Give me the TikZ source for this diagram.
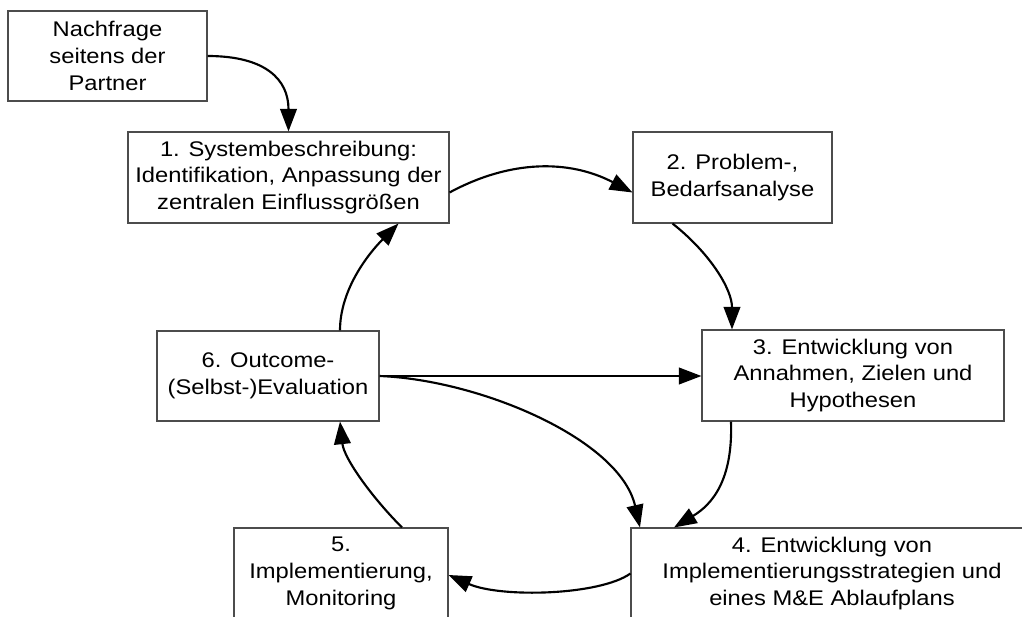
\documentclass[tikz,border=0pt]{standalone}
\usepackage{fontspec}
\setmainfont{Liberation Sans}[FakeStretch=1.12]
\usetikzlibrary{arrows.meta,calc}

\begin{document}
\begin{tikzpicture}[
  x=0.75pt, y=-0.75pt,
  box/.style={draw=black!70, line width=0.8pt, fill=white, inner sep=0pt,
    align=center, font=\fontsize{15.9pt}{20pt}\selectfont},
  flow/.style={line width=1.6pt, -{Triangle[length=17pt,width=12.5pt]}}
]
\useasboundingbox (0,0) rectangle (1022,617);

% process boxes
\node[box, minimum width=149.25pt, minimum height=67.5pt] (n)  at (107.5,56)  {Nachfrage\\seitens der\\Partner};
\node[box, minimum width=240.75pt, minimum height=68.25pt] (b1) at (288.5,177.5) {1. Systembeschreibung:\\Identifikation, Anpassung der\\zentralen Einflussgrößen};
\node[box, minimum width=149.25pt, minimum height=68.25pt] (b2) at (732.5,177.5) {2. Problem-,\\Bedarfsanalyse};
\node[box, minimum width=226.5pt, minimum height=68.25pt] (b3) at (853,375.5) {3. Entwicklung von\\Annahmen, Zielen und\\Hypothesen};
\node[box, minimum width=166.5pt, minimum height=67.5pt] (b6) at (268,376) {6. Outcome-\\(Selbst-)Evaluation};
\node[box, minimum width=160.5pt, minimum height=68.25pt] (b5) at (341,573.5) {5.\\Implementierung,\\Monitoring};
\node[box, minimum width=301.5pt, minimum height=68.25pt] (b4) at (832,573.5) {4. Entwicklung von\\Implementierungsstrategien und\\eines M\&E Ablaufplans};

% connectors
\draw[flow] (n.east) .. controls +(58,0) and +(0,-52) .. (b1.north);
\draw[flow] ($(b1.east)+(0,15)$) .. controls +(61,-33) and +(-63,-33) .. ($(b2.west)+(0,15)$);
\draw[flow] ($(b2.south)+(-60,0)$) .. controls +(38,30) and +(0,-40) .. ($(b3.north)+(-121,0)$);
\draw[flow] ($(b3.south)+(-122,0)$) .. controls +(2,59) and +(38,-23) .. ($(b4.north)+(-158,0)$);
\draw[flow] (b6.east) -- (b6.east -| b3.west);
\draw[flow] (b6.east) .. controls +(101,4) and +(-20,-88) .. ($(b4.north)+(-192,0)$);
\draw[flow] (b4.west) .. controls +(-31,22) and +(52,23) .. ($(b5.east)+(0,1.5)$);
\draw[flow] ($(b5.north)+(61,0)$) .. controls +(-30,-30) and +(4,37) .. ($(b6.south)+(72,0)$);
\draw[flow] ($(b6.north)+(72,0)$) .. controls +(0,-41) and +(-30,30) .. ($(b1.south)+(110,0)$);
\end{tikzpicture}
\end{document}
